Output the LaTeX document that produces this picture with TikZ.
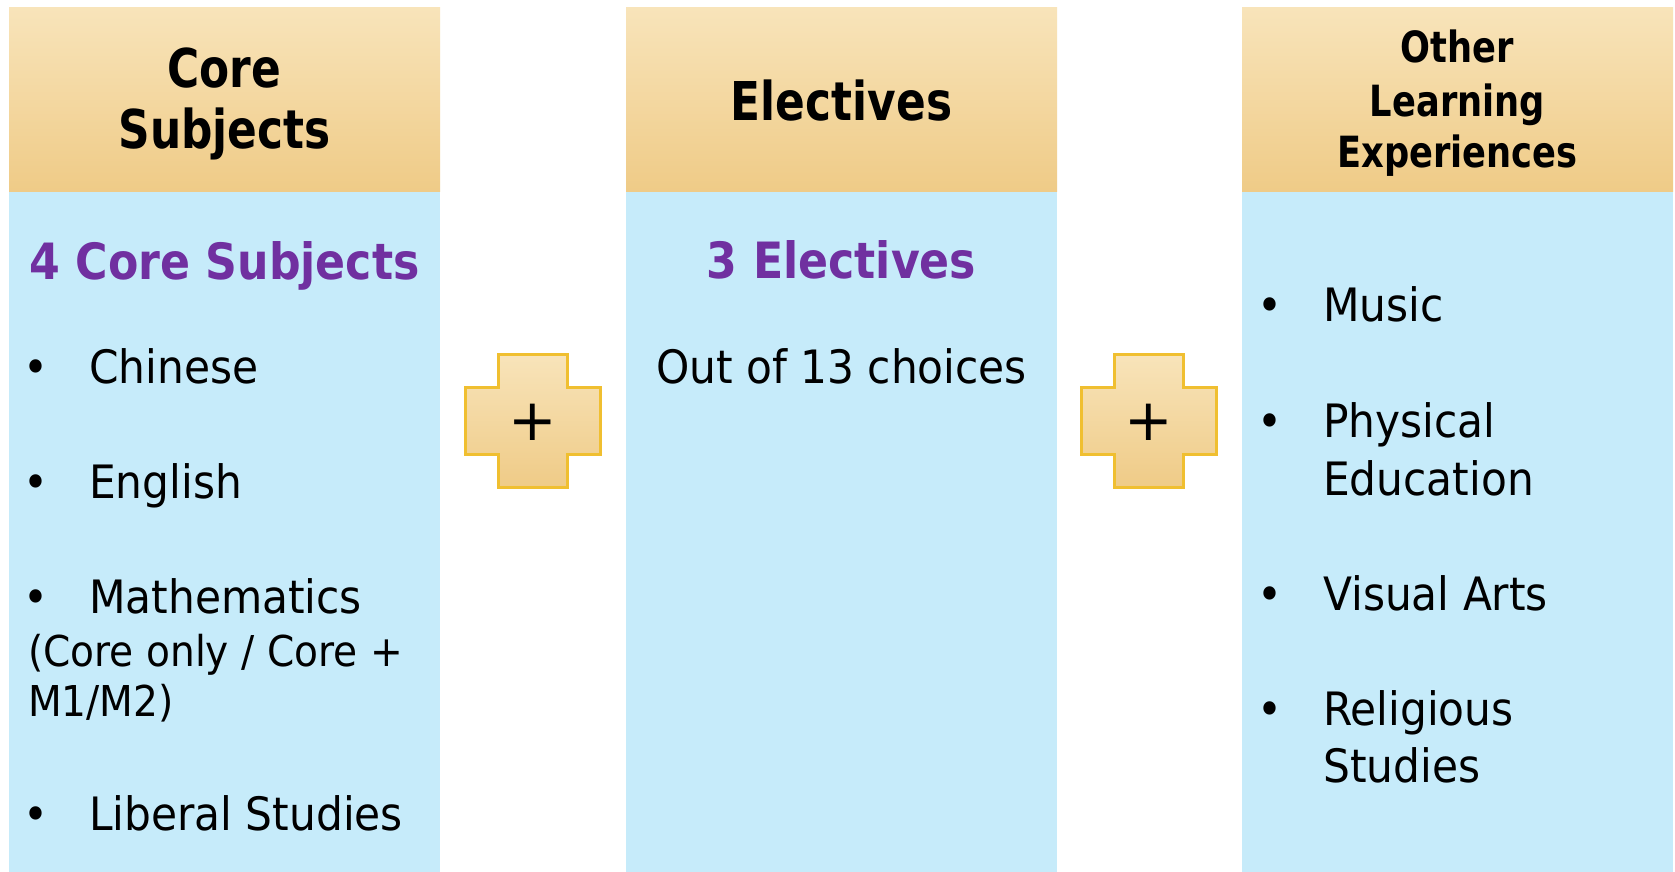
\documentclass[tikz,border=0pt]{standalone}
\usepackage{fontspec}
\setmainfont{DejaVu Sans}
\newfontfamily\hfont[FakeStretch=0.82]{DejaVu Sans}
\newfontfamily\pfont[FakeStretch=0.885]{DejaVu Sans}
\newfontfamily\bfont[FakeStretch=0.92]{DejaVu Sans}
\definecolor{hdrtop}{HTML}{F8E4BA}
\definecolor{hdrbot}{HTML}{EFCB87}
\definecolor{bluebg}{HTML}{C6EBFA}
\definecolor{purp}{HTML}{7030A0}
\definecolor{gold}{HTML}{F0BF30}
\tikzset{
  hdrbox/.style={rectangle, inner sep=0pt, minimum width=431pt, minimum height=184pt, top color=hdrtop, bottom color=hdrbot, draw=none},
  bodybox/.style={rectangle, inner sep=0pt, minimum width=431pt, minimum height=681pt, fill=bluebg, draw=none},
  hbig/.style={inner sep=0pt, anchor=base, font=\hfont\bfseries\fontsize{53.5}{60}\selectfont},
  hsmall/.style={inner sep=0pt, anchor=base, font=\hfont\bfseries\fontsize{43}{50}\selectfont},
  ptitle/.style={inner sep=0pt, anchor=base, text=purp, font=\pfont\bfseries\fontsize{50}{58}\selectfont},
  btext/.style={inner sep=0pt, anchor=base west, font=\bfont\fontsize{46}{55}\selectfont},
  ctext/.style={inner sep=0pt, anchor=base, font=\bfont\fontsize{46}{55}\selectfont},
  stext/.style={inner sep=0pt, anchor=base west, font=\bfont\fontsize{42.5}{48}\selectfont},
  bul/.style={inner sep=0pt, anchor=base, font=\bfont\fontsize{46}{55}\selectfont},
  plusbox/.style={top color=hdrtop, bottom color=hdrbot, draw=gold, line width=3pt, line join=miter},
  plustext/.style={inner sep=0pt, anchor=center, font=\fontsize{58}{60}\selectfont}
}
\begin{document}
\begin{tikzpicture}[x=1pt,y=-1pt]
\useasboundingbox (0,0) rectangle (1675,872);
\fill[white] (0,0) rectangle (1675,872);
% column boxes
\node[bodybox, anchor=north west] (b1) at (9,191) {};
\node[bodybox, anchor=north west] (b2) at (626,191) {};
\node[bodybox, anchor=north west] (b3) at (1242,191) {};
\node[hdrbox, anchor=north west] (h1) at (9,7) {};
\node[hdrbox, anchor=north west] (h2) at (626,7) {};
\node[hdrbox, anchor=north west] (h3) at (1242,7) {};
% header texts
\node[hbig] (h1a) at (224.5,88) {Core};
\node[hbig] (h1b) at (224.5,148) {Subjects};
\node[hbig] (h2a) at (841.5,121) {Electives};
\node[hsmall] (h3a) at (1457.5,63) {Other};
\node[hsmall] (h3b) at (1457.5,117) {Learning};
\node[hsmall] (h3c) at (1457.5,167) {Experiences};
% column 1
\node[ptitle] (t1) at (224.5,279) {4 Core Subjects};
\node[bul] (u1) at (36,383) {•};
\node[btext] (c1) at (89,383) {Chinese};
\node[bul] (u2) at (36,498) {•};
\node[btext] (c2) at (89,498) {English};
\node[bul] (u3) at (36,613) {•};
\node[btext] (c3) at (89,613) {Mathematics};
\node[stext] (c3a) at (28,666) {(Core only / Core +};
\node[stext] (c3b) at (28,716) {M1/M2)};
\node[bul] (u4) at (36,830) {•};
\node[btext] (c4) at (89,830) {Liberal Studies};
% column 2
\node[ptitle] (t2) at (841.5,278) {3 Electives};
\node[ctext] (e1) at (841.5,383) {Out of 13 choices};
% column 3
\node[bul] (v1) at (1270,321) {•};
\node[btext] (o1) at (1323,321) {Music};
\node[bul] (v2) at (1270,437) {•};
\node[btext] (o2) at (1323,437) {Physical};
\node[btext] (o2b) at (1323,495) {Education};
\node[bul] (v3) at (1270,610) {•};
\node[btext] (o3) at (1323,610) {Visual Arts};
\node[bul] (v4) at (1270,725) {•};
\node[btext] (o4) at (1323,725) {Religious};
\node[btext] (o4b) at (1323,782) {Studies};
% plus crosses
\draw[plusbox] (533,420.5) ++(-34.5,-66.5) -- ++(69,0) -- ++(0,33) -- ++(33,0) -- ++(0,67) -- ++(-33,0) -- ++(0,33) -- ++(-69,0) -- ++(0,-33) -- ++(-33,0) -- ++(0,-67) -- ++(33,0) -- cycle;
\draw[plusbox] (1149,420.5) ++(-34.5,-66.5) -- ++(69,0) -- ++(0,33) -- ++(33,0) -- ++(0,67) -- ++(-33,0) -- ++(0,33) -- ++(-69,0) -- ++(0,-33) -- ++(-33,0) -- ++(0,-67) -- ++(33,0) -- cycle;
\node[plustext] (p1) at (533,422) {+};
\node[plustext] (p2) at (1149,422) {+};
\end{tikzpicture}
\end{document}
